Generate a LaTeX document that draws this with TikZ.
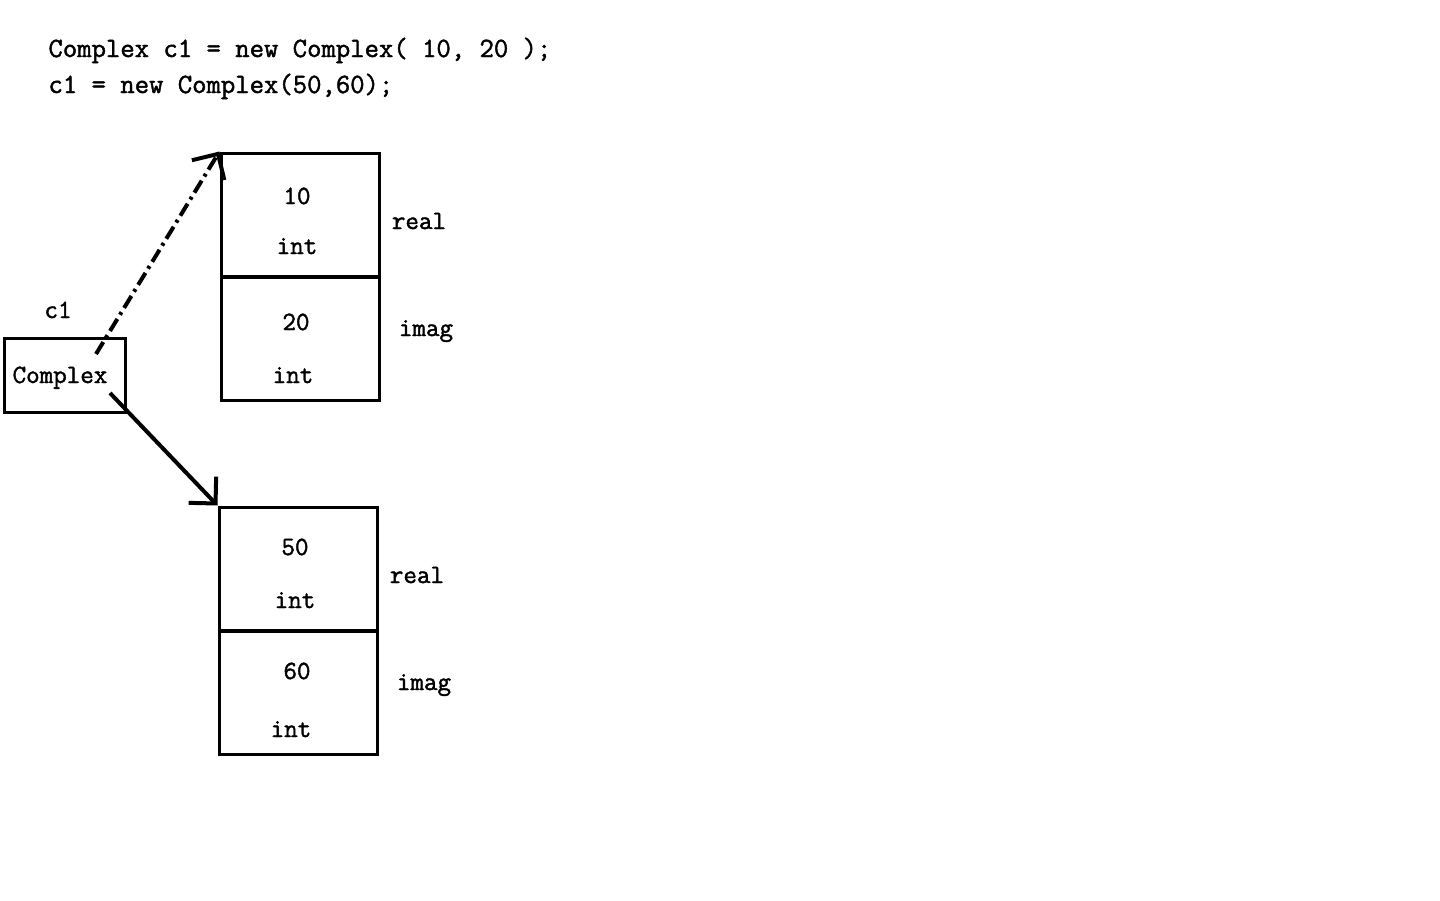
\documentclass[tikz,border=0pt]{standalone}
\usepackage{fontspec}
\newfontfamily\codefont{Latin Modern Mono}[FakeBold=1.6]
\usetikzlibrary{arrows.meta}

\begin{document}
\begin{tikzpicture}[x=1pt,y=-1pt,>={Straight Barb[length=19pt,width=38pt]},line width=3pt]
\tikzset{CellStyle/.style = {draw,minimum width=158pt,
                             minimum height=124pt,inner sep=0pt},
         CodeStyle/.style = {font=\codefont\fontsize{27.9}{32}\selectfont,
                             anchor=base west,inner sep=0pt},
         TextStyle/.style = {font=\codefont\fontsize{26.3}{32}\selectfont,
                             anchor=base,inner sep=0pt}}
\useasboundingbox (0,0) rectangle (1440,900);
% source lines
\node[CodeStyle] (line1) at (47,57) {Complex c1 = new Complex( 10, 20 );};
\node[CodeStyle] (line2) at (47,93) {c1 = new Complex(50,60);};
% reference variable
\node[draw,minimum width=121pt,minimum height=74pt,inner sep=0pt] (c1) at (64.5,375) {};
\node[TextStyle] (c1type) at (60,383) {Complex};
\node[TextStyle] (c1name) at (58,318) {c1};
% first object
\node[CellStyle] (real1) at (300,215) {};
\node[CellStyle] (imag1) at (300,338.5) {};
\node[TextStyle] (val1) at (297,204) {10}; \node[TextStyle] (typ1) at (297,254) {int};
\node[TextStyle] (val2) at (296,330) {20}; \node[TextStyle] (typ2) at (293,383) {int};
\node[TextStyle] (fld1) at (419,229) {real}; \node[TextStyle] (fld2) at (426,336) {imag};
% second object
\node[CellStyle] (real2) at (298,569) {};
\node[CellStyle] (imag2) at (298,692.5) {};
\node[TextStyle] (val3) at (295,555) {50}; \node[TextStyle] (typ3) at (295,608) {int};
\node[TextStyle] (val4) at (297,679) {60}; \node[TextStyle] (typ4) at (291,737) {int};
\node[TextStyle] (fld3) at (417,583) {real}; \node[TextStyle] (fld4) at (424,690) {imag};
% references
\coordinate (old) at (96,354);
\coordinate (new) at (110,393);
\draw[->,line width=4pt,dash pattern=on 14pt off 5pt on 3pt off 5pt] (old) -- (real1.north west);
\draw[->,line width=4pt] (new) -- (real2.north west);
\end{tikzpicture}
\end{document}
